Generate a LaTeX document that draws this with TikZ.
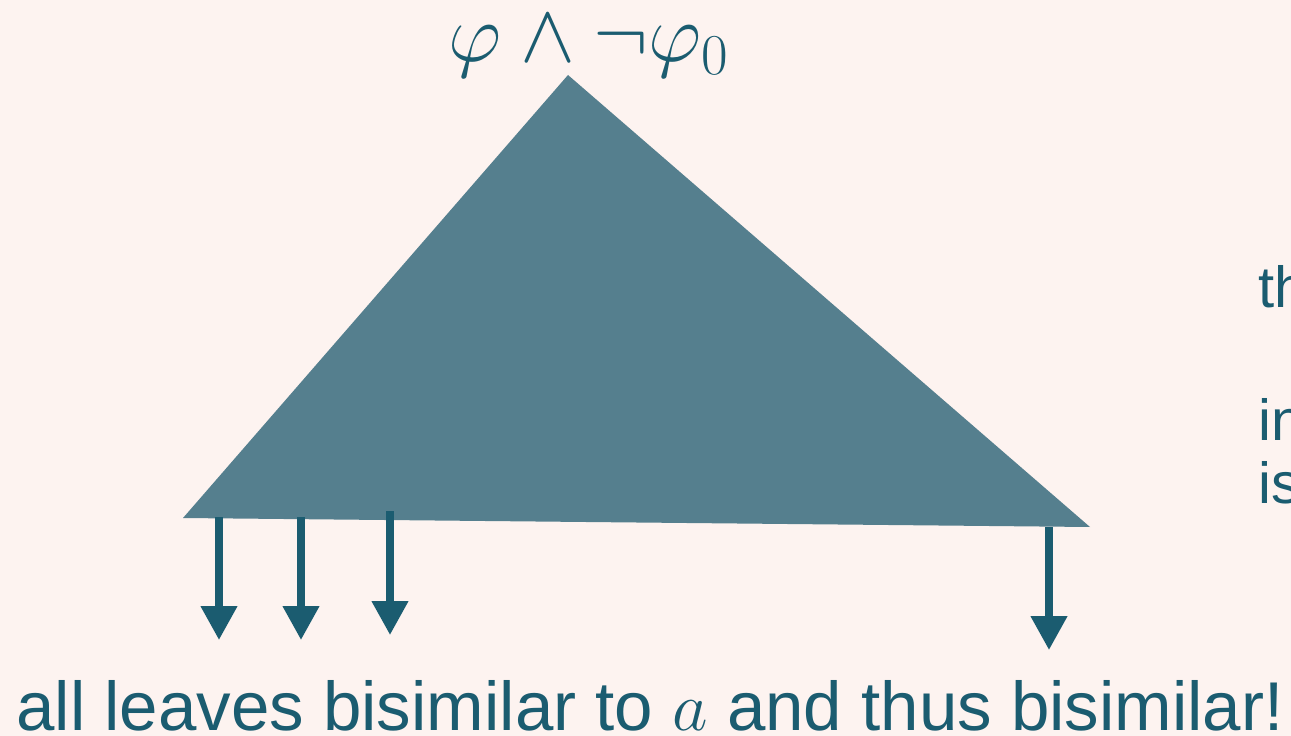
\RequirePackage{fix-cm}
\documentclass[tikz,border=0pt]{standalone}
\usepackage{fontspec}
\setmainfont{Liberation Sans}
\usetikzlibrary{arrows.meta}
\definecolor{bgpink}{HTML}{FDF3F0}
\definecolor{treefill}{HTML}{557F8E}
\definecolor{inkteal}{HTML}{1B5C70}
\begin{document}
\begin{tikzpicture}[x=0.02cm, y=-0.02cm, >={Triangle[width=0.7cm, length=0.68cm]},
  leaf/.style={->, line width=0.15cm, draw=inkteal, fill=inkteal},
  caption/.style={text=inkteal, font=\fontsize{39.3}{46}\selectfont, inner sep=0pt},
  aside/.style={text=inkteal, font=\fontsize{33}{40}\selectfont, inner sep=0pt, anchor=base west}]
\useasboundingbox[fill=bgpink] (0,0) rectangle (1291,736);
% the tree
\coordinate (root) at (568,75);
\coordinate (lcorner) at (183,518);
\coordinate (rcorner) at (1090,527);
\fill[treefill] (root) -- (lcorner) -- (rcorner) -- cycle;
\node[text=inkteal, font=\fontsize{47}{52}\selectfont, inner sep=0pt, anchor=base] (formula) at (589,62) {$\varphi \wedge \neg\varphi_0$};
% leaves
\coordinate (s1) at (219,517); \coordinate (e1) at (219,640);
\coordinate (s2) at (301,517); \coordinate (e2) at (301,640);
\coordinate (s3) at (390,511); \coordinate (e3) at (390,635);
\coordinate (s4) at (1049,527); \coordinate (e4) at (1049,650);
\foreach \i in {1,...,4}
  \draw[leaf] (s\i) -- (e\i);
\node[caption, anchor=base] (leaves) at (650,730) {all leaves bisimilar to $a$ and thus bisimilar!};
% text running off the right edge
\node[aside] (line1) at (1258,308) {th};
\node[aside] (line2) at (1258,440) {in};
\node[aside] (line3) at (1258,503) {is};
\end{tikzpicture}
\end{document}
